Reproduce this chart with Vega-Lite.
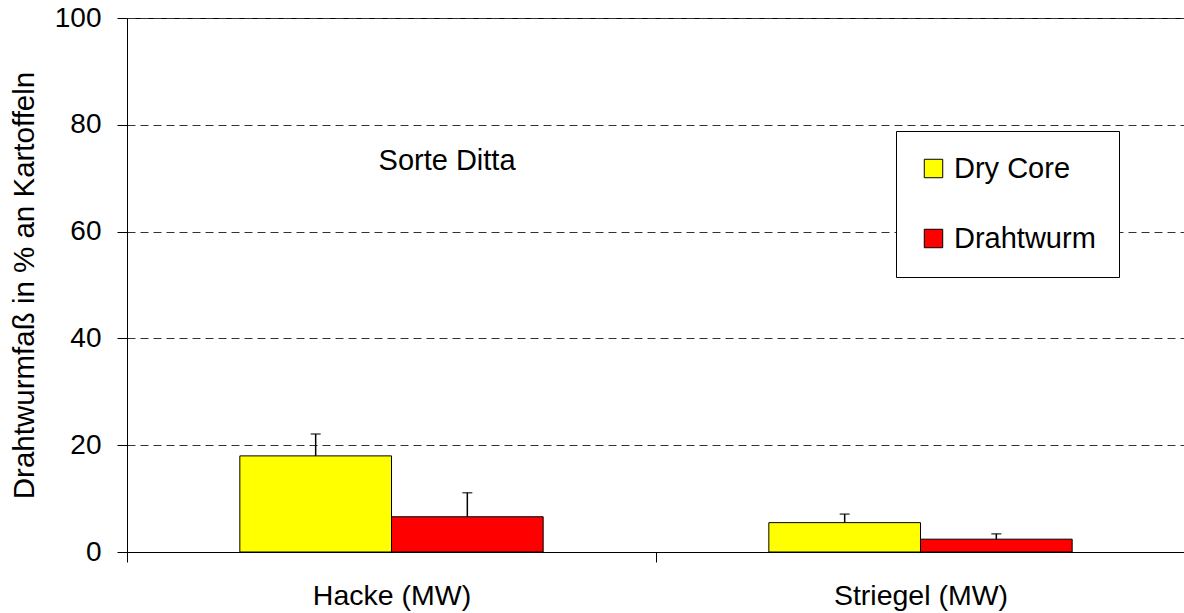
{
  "$schema": "https://vega.github.io/schema/vega-lite/v6.json",
  "autosize": {"type": "none"},
  "padding": {"left": 127, "top": 18, "right": 0, "bottom": 61},
  "width": 1058,
  "height": 534,
  "background": "white",
  "config": {
    "font": "Liberation Sans",
    "view": {"stroke": "black", "strokeWidth": 1},
    "axis": {"domainColor": "black", "tickColor": "black", "labelColor": "black", "titleColor": "black", "titleFontWeight": "normal"}
  },
  "datasets": {
    "bars": [
      {"cat": "Hacke (MW)", "series": "Dry Core", "value": 18.0, "upper": 22.1},
      {"cat": "Hacke (MW)", "series": "Drahtwurm", "value": 6.6, "upper": 11.1},
      {"cat": "Striegel (MW)", "series": "Dry Core", "value": 5.5, "upper": 7.1},
      {"cat": "Striegel (MW)", "series": "Drahtwurm", "value": 2.4, "upper": 3.4}
    ],
    "note": [
      {"cat": "Hacke (MW)", "y": 71.5, "label": "Sorte Ditta"}
    ]
  },
  "layer": [
    {
      "data": {"name": "bars"},
      "mark": {"type": "bar", "stroke": "black", "strokeWidth": 1},
      "encoding": {
        "x": {"field": "cat", "type": "nominal", "scale": {"domain": ["Hacke (MW)", "Striegel (MW)"], "paddingInner": 0, "paddingOuter": 0},
          "axis": {"title": null, "labelAngle": 0, "tickBand": "extent", "tickSize": 10, "labelPadding": 19, "labelFontSize": 28.5, "grid": false}},
        "xOffset": {"field": "series", "type": "nominal", "scale": {"domain": ["Dry Core", "Drahtwurm"], "paddingInner": 0, "paddingOuter": 0.744}},
        "y": {"field": "value", "type": "quantitative", "scale": {"domain": [0, 100], "nice": false},
          "axis": {"title": "Drahtwurmfaß in % an Kartoffeln", "values": [0, 20, 40, 60, 80, 100], "grid": true, "gridDash": [8, 5], "gridColor": "#333", "gridWidth": 1, "tickSize": 10, "labelPadding": 16, "labelFontSize": 28, "titleFontSize": 29.5, "titleX": -94, "titleBaseline": "alphabetic"}},
        "color": {"field": "series", "type": "nominal", "scale": {"domain": ["Dry Core", "Drahtwurm"], "range": ["#FFFF00", "#FF0000"]},
          "legend": {"title": null, "orient": "none", "legendX": 769, "legendY": 113, "direction": "vertical", "fillColor": "white", "strokeColor": "black", "padding": 23, "rowPadding": 40, "symbolType": "square", "symbolSize": 340, "symbolStrokeColor": "black", "symbolStrokeWidth": 1, "labelFontSize": 29, "labelOffset": 6, "labelColor": "black"}}
      }
    },
    {
      "data": {"name": "bars"},
      "mark": {"type": "rule", "color": "black", "strokeWidth": 1.5},
      "encoding": {
        "x": {"field": "cat", "type": "nominal"},
        "xOffset": {"field": "series", "type": "nominal"},
        "y": {"field": "value", "type": "quantitative"},
        "y2": {"field": "upper"}
      }
    },
    {
      "data": {"name": "bars"},
      "mark": {"type": "tick", "orient": "horizontal", "color": "black", "size": 10, "thickness": 1.5},
      "encoding": {
        "x": {"field": "cat", "type": "nominal"},
        "xOffset": {"field": "series", "type": "nominal"},
        "y": {"field": "upper", "type": "quantitative"}
      }
    },
    {
      "data": {"name": "note"},
      "mark": {"type": "text", "fontSize": 29, "align": "center", "baseline": "alphabetic", "color": "black"},
      "encoding": {
        "x": {"field": "cat", "type": "nominal", "bandPosition": 0.605},
        "y": {"field": "y", "type": "quantitative"},
        "text": {"field": "label"}
      }
    }
  ]
}
